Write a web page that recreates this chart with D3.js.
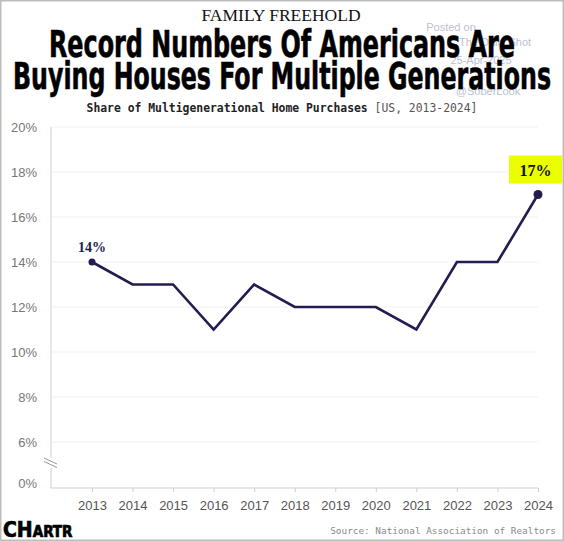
<!DOCTYPE html>
<html>
<head>
<meta charset="utf-8">
<script src="https://cdn.jsdelivr.net/npm/d3@7"></script>
<style>
  body { margin: 0; background: #fff; }
  svg { display: block; }
</style>
</head>
<body>
<div id="canvas"></div>
<script>
const years = [2013, 2014, 2015, 2016, 2017, 2018, 2019, 2020, 2021, 2022, 2023, 2024]
const share = [14, 13, 13, 11, 13, 12, 12, 12, 11, 14, 14, 17]
const yTicks = [0, 6, 8, 10, 12, 14, 16, 18, 20]

const width = 564
const height = 541

const svg = d3.select('#canvas')
  .append('svg')
    .attr('width', width)
    .attr('height', height)

// frame
svg.append('rect')
  .attr('x', 0.75).attr('y', 0.75)
  .attr('width', width - 1.5).attr('height', height - 1.5)
  .attr('fill', 'none')
  .attr('stroke', '#bdbdbd')
  .attr('stroke-width', 1.5)

// watermark (sits behind the title)
const wm = svg.append('g')
  .attr('fill', '#b9c2d0')
  .attr('font-family', 'Liberation Sans, Arial, sans-serif')
  .attr('font-size', 11)
  .attr('text-anchor', 'middle')
wm.append('text').attr('x', 451).attr('y', 31).text('Posted on')
wm.append('text').attr('x', 495).attr('y', 46).text('The Daily Shot')
wm.append('text').attr('x', 481).attr('y', 64).text('25-Apr-2025')
wm.append('text').attr('x', 488).attr('y', 95).text('@SoberLook')

// header
svg.append('text')
  .attr('x', 281).attr('y', 21)
  .attr('text-anchor', 'middle')
  .attr('font-family', 'Liberation Serif, Times New Roman, serif')
  .attr('font-size', 17.5)
  .attr('fill', '#111')
  .text('FAMILY FREEHOLD')

const titleLines = [
  { text: 'Record Numbers Of Americans Are', y: 57, len: 466 },
  { text: 'Buying Houses For Multiple Generations', y: 89, len: 538 }
]
svg.selectAll('.title')
  .data(titleLines)
  .enter()
  .append('text')
    .attr('class', 'title')
    .attr('x', 282)
    .attr('y', d => d.y)
    .attr('text-anchor', 'middle')
    .attr('font-family', 'Liberation Sans Narrow, DejaVu Sans Condensed, Arial Narrow, sans-serif')
    .attr('font-weight', 700)
    .attr('font-size', 37)
    .attr('textLength', d => d.len)
    .attr('lengthAdjust', 'spacingAndGlyphs')
    .attr('fill', '#000')
    .attr('stroke', '#000')
    .attr('stroke-width', 0.6)
    .text(d => d.text)

const sub = svg.append('text')
  .attr('x', 282).attr('y', 112)
  .attr('text-anchor', 'middle')
  .attr('font-family', 'DejaVu Sans Mono, Liberation Mono, monospace')
  .attr('font-size', 11.4)
sub.append('tspan').attr('font-weight', 700).attr('fill', '#222')
  .text('Share of Multigenerational Home Purchases ')
sub.append('tspan').attr('fill', '#555')
  .text('[US, 2013-2024]')

// scales
const x = d3.scaleLinear()
  .domain([2013, 2024])
  .range([92, 538])

const y = d3.scaleLinear()
  .domain([0, 6, 20])
  .range([483, 442, 127])

const left = 51
const right = 538
const bottom = 488

// gridlines
svg.append('g')
  .selectAll('line')
  .data(yTicks.filter(d => d > 0))
  .enter()
  .append('line')
    .attr('x1', left).attr('x2', right)
    .attr('y1', d => y(d)).attr('y2', d => y(d))
    .attr('stroke', '#f1f1f1')
    .attr('stroke-width', 1)

// y axis
const yAxis = d3.axisLeft(y)
  .tickValues(yTicks)
  .tickSize(0)
  .tickPadding(0)
  .tickFormat(d => `${d}%`)

svg.append('g')
  .attr('transform', 'translate(37, 0)')
  .call(yAxis)
  .call(g => g.select('.domain').remove())
  .call(g => g.selectAll('text')
    .attr('font-family', 'Liberation Sans, Arial, sans-serif')
    .attr('font-size', 13)
    .attr('fill', '#777'))

svg.append('line')
  .attr('x1', left).attr('x2', left)
  .attr('y1', y(20)).attr('y2', bottom)
  .attr('stroke', '#cfcfcf')

// axis break
svg.append('rect')
  .attr('x', left - 8).attr('y', 458)
  .attr('width', 16).attr('height', 10)
  .attr('fill', '#fff')
svg.append('g')
  .selectAll('line')
  .data([0, 3.5])
  .enter()
  .append('line')
    .attr('x1', 44).attr('x2', 57)
    .attr('y1', d => 458 + d).attr('y2', d => 464 + d)
    .attr('stroke', '#999')
    .attr('stroke-width', 1)

// x axis
const xAxis = d3.axisBottom(x)
  .tickValues(years)
  .tickSize(4)
  .tickPadding(9)
  .tickFormat(d => d)

svg.append('g')
  .attr('transform', `translate(0, ${bottom})`)
  .call(xAxis)
  .call(g => g.select('.domain').remove())
  .call(g => g.selectAll('line').attr('stroke', '#cfcfcf'))
  .call(g => g.selectAll('text')
    .attr('font-family', 'Liberation Sans, Arial, sans-serif')
    .attr('font-size', 13)
    .attr('fill', '#555'))

svg.append('line')
  .attr('x1', left).attr('x2', right)
  .attr('y1', bottom).attr('y2', bottom)
  .attr('stroke', '#cfcfcf')

// line
const points = years.map((yr, i) => ({ year: yr, value: share[i] }))
const navy = '#221d50'

svg.append('path')
  .datum(points)
  .attr('fill', 'none')
  .attr('stroke', navy)
  .attr('stroke-width', 2.6)
  .attr('stroke-linejoin', 'miter')
  .attr('d', d3.line().x(d => x(d.year)).y(d => y(d.value)))

const ends = [points[0], points[points.length - 1]]
svg.selectAll('.dot')
  .data(ends)
  .enter()
  .append('circle')
    .attr('class', 'dot')
    .attr('cx', d => x(d.year))
    .attr('cy', d => y(d.value))
    .attr('r', d => d.year === 2024 ? 4.5 : 3.5)
    .attr('fill', navy)

// labels
const first = points[0]
svg.append('text')
  .attr('x', x(first.year))
  .attr('y', y(first.value) - 10)
  .attr('text-anchor', 'middle')
  .attr('font-family', 'Liberation Serif, Times New Roman, serif')
  .attr('font-weight', 700)
  .attr('font-size', 14)
  .attr('fill', navy)
  .text(`${first.value}%`)

const last = points[points.length - 1]
svg.append('rect')
  .attr('x', x(last.year) - 29)
  .attr('y', y(last.value) - 39)
  .attr('width', 53)
  .attr('height', 28)
  .attr('fill', '#ecff00')
svg.append('text')
  .attr('x', x(last.year) - 2.5)
  .attr('y', y(last.value) - 19)
  .attr('text-anchor', 'middle')
  .attr('font-family', 'Liberation Serif, Times New Roman, serif')
  .attr('font-weight', 700)
  .attr('font-size', 16)
  .attr('fill', '#111')
  .text(`${last.value}%`)

// footer logo
const logo = svg.append('text')
  .attr('x', 3).attr('y', 537)
  .attr('font-family', 'DejaVu Sans Condensed, Liberation Sans Narrow, sans-serif')
  .attr('font-weight', 700)
  .attr('fill', '#000')
  .attr('stroke', '#000')
  .attr('stroke-width', 0.7)
logo.append('tspan').attr('font-size', 21).text('CH')
logo.append('tspan').attr('font-size', 15).text('ARTR')

svg.append('text')
  .attr('x', 556).attr('y', 534)
  .attr('text-anchor', 'end')
  .attr('font-family', 'DejaVu Sans Mono, Liberation Mono, monospace')
  .attr('font-size', 9.4)
  .attr('fill', '#8a8a8a')
  .text('Source: National Association of Realtors')
</script>
</body>
</html>
